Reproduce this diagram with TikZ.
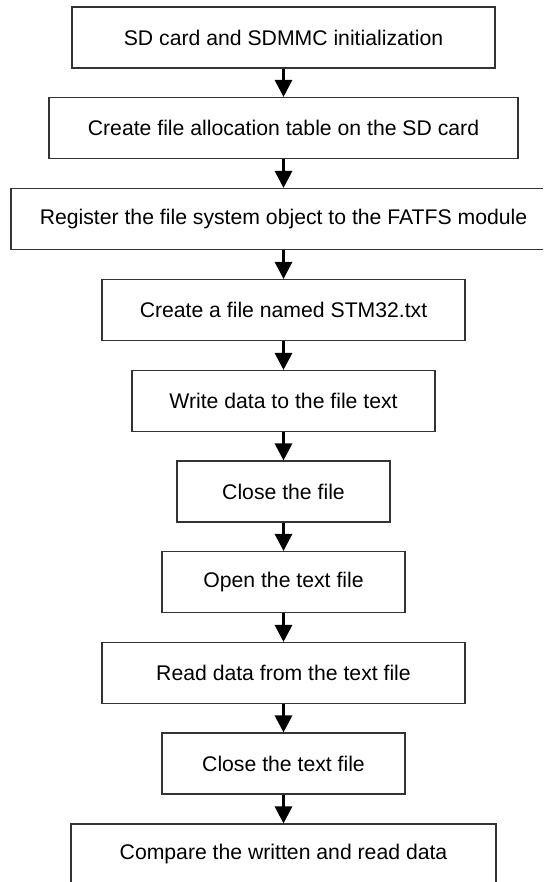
\documentclass[tikz,border=0pt]{standalone}
\usepackage{fontspec}
\setmainfont{Liberation Sans}
\usetikzlibrary{arrows.meta}
\tikzset{
  box/.style={draw=black!80,line width=1.1pt,minimum height=61pt,inner sep=0pt,
    font=\fontsize{21.2}{25}\selectfont}
}
\begin{document}
\begin{tikzpicture}[x=1pt,y=1pt]
      \useasboundingbox (0,0) rectangle (543,-882);
      \clip (0,0) rectangle (543,-882);
      \draw
        (283.5,-37.5) node[box,minimum width=423] (init){SD card and SDMMC initialization}
        (283.5,-128) node[box,minimum width=469] (fat){Create file allocation table on the SD card}
        (283.5,-219) node[box,minimum width=545] (reg){Register the file system object to the FATFS module}
        (283.5,-310) node[box,minimum width=363] (create){Create a file named STM32.txt}
        (283.5,-401) node[box,minimum width=303] (write){Write data to the file text}
        (283.5,-491.5) node[box,minimum width=213] (close){Close the file}
        (283.5,-582) node[box,minimum width=243] (open){Open the text file}
        (283.5,-673) node[box,minimum width=363] (read){Read data from the text file}
        (283.5,-763.5) node[box,minimum width=243] (closetxt){Close the text file}
        (283.5,-854.5) node[box,minimum width=425] (compare){Compare the written and read data};
      \begin{scope}[-{Triangle[width=17pt,length=17pt]},line width=3pt]
        \draw (init) to (fat);
        \draw (fat) to (reg);
        \draw (reg) to (create);
        \draw (create) to (write);
        \draw (write) to (close);
        \draw (close) to (open);
        \draw (open) to (read);
        \draw (read) to (closetxt);
        \draw (closetxt) to (compare);
      \end{scope}
    \end{tikzpicture}
\end{document}
